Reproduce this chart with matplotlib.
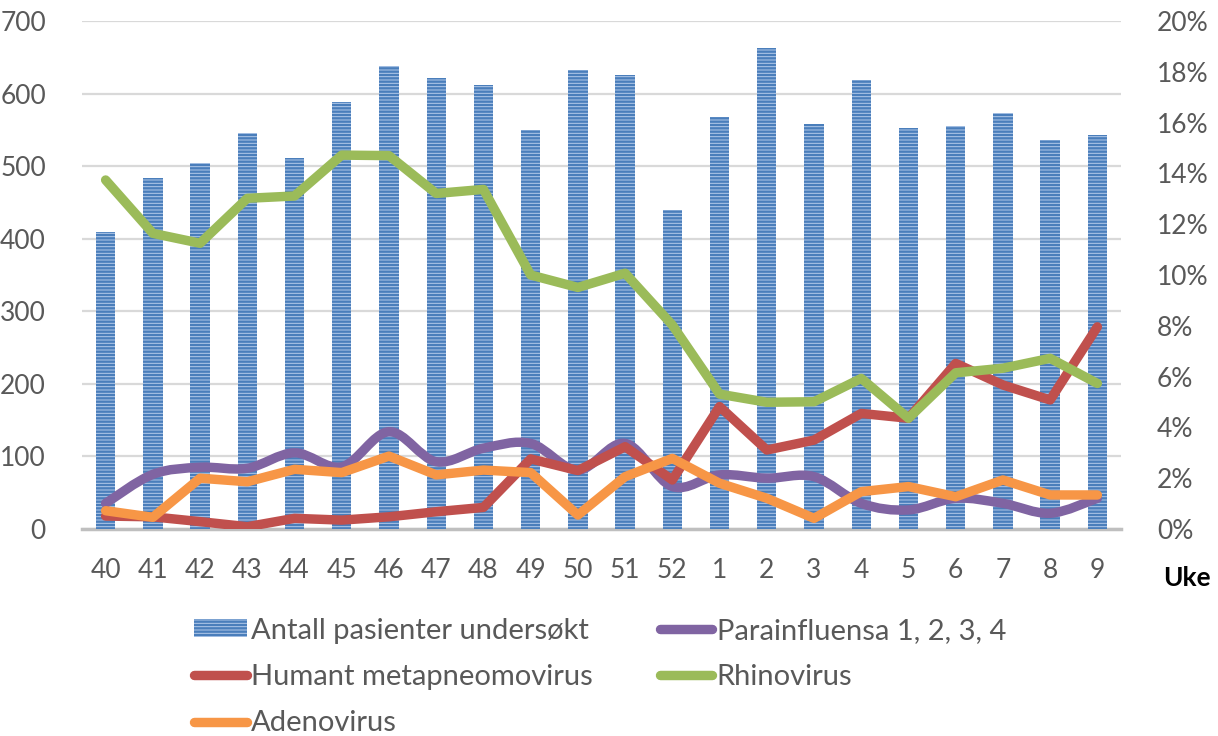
import matplotlib
matplotlib.use("Agg")
import matplotlib.pyplot as plt
from matplotlib.path import Path
from matplotlib.patches import PathPatch, Patch
from matplotlib.lines import Line2D
from matplotlib.ticker import FuncFormatter
import numpy as np

weeks = ["40", "41", "42", "43", "44", "45", "46", "47", "48", "49", "50", "51",
         "52", "1", "2", "3", "4", "5", "6", "7", "8", "9"]
antall = [409, 484, 505, 545, 511, 589, 638, 621, 612, 550, 633, 626,
          439, 568, 663, 558, 619, 553, 555, 573, 536, 543]
parainfluensa = [1.01, 2.15, 2.43, 2.39, 3.00, 2.45, 3.83, 2.65, 3.18, 3.37, 2.32, 3.37,
                 1.67, 2.13, 2.00, 2.06, 1.01, 0.75, 1.21, 1.01, 0.62, 1.21]
metapneumo = [0.51, 0.48, 0.29, 0.09, 0.42, 0.35, 0.48, 0.68, 0.85, 2.76, 2.30, 3.24,
              1.93, 4.82, 3.11, 3.50, 4.55, 4.36, 6.52, 5.67, 5.08, 7.96]
rhinovirus = [13.74, 11.64, 11.25, 13.02, 13.11, 14.72, 14.70, 13.21, 13.37, 10.00, 9.51, 10.07,
              8.03, 5.31, 4.99, 5.01, 5.93, 4.36, 6.15, 6.33, 6.72, 5.73]
adenovirus = [0.72, 0.46, 2.00, 1.86, 2.35, 2.22, 2.87, 2.13, 2.32, 2.22, 0.55, 2.06,
              2.78, 1.80, 1.21, 0.42, 1.47, 1.67, 1.27, 1.93, 1.34, 1.34]

names = ["Antall pasienter undersøkt", "Parainfluensa 1, 2, 3, 4",
         "Humant metapneomovirus", "Rhinovirus", "Adenovirus"]

C_BAR_FACE = "#b3caea"
C_BAR_HATCH = "#4a7ebb"
C_PARA = "#8064a2"
C_META = "#c0504d"
C_RHINO = "#9bbb59"
C_ADENO = "#f79646"
TXT = "#595959"

plt.rcParams["font.family"] = ["Lato", "DejaVu Sans"]
plt.rcParams["hatch.linewidth"] = 1.7

W, H = 1218, 736
fig = plt.figure(figsize=(W / 100, H / 100), dpi=100)
left, right, top, bottom = 82, 1121, 21, 529
ax = fig.add_axes([left / W, 1 - bottom / H, (right - left) / W, (bottom - top) / H])

x = np.arange(len(weeks))
ax.bar(x, antall, width=0.41, color=C_BAR_FACE, edgecolor=C_BAR_HATCH,
       linewidth=0, hatch="-----", zorder=2)
ax.set_xlim(-0.5, len(weeks) - 0.5)
ax.set_ylim(0, 700)
ax.set_yticks(np.arange(0, 701, 100))
ax.yaxis.grid(True, color="#d9d9d9", linewidth=1.6, zorder=0)
ax.set_axisbelow(True)
for s in ["top", "right", "left"]:
    ax.spines[s].set_visible(False)
ax.spines["bottom"].set_color("#bfbfbf")
ax.spines["bottom"].set_linewidth(2.5)
ax.spines["bottom"].set_zorder(1)
ax.set_xticks(x)
ax.set_xticklabels(weeks)
ax.tick_params(axis="both", length=0, labelsize=19, labelcolor=TXT)
ax.tick_params(axis="x", pad=21)
ax.tick_params(axis="y", pad=26)

ax2 = ax.twinx()
ax2.set_ylim(0, 20)
ax2.set_yticks(np.arange(0, 21, 2))
ax2.yaxis.set_major_formatter(FuncFormatter(lambda v, p: f"{int(round(v))}%"))
ax2.tick_params(axis="y", length=0, labelsize=19, labelcolor=TXT, pad=26)
for s in ax2.spines.values():
    s.set_visible(False)

LW = 6.8


def smooth_path(xs, ys):
    pts = np.column_stack([xs, ys]).astype(float)
    n = len(pts)
    verts = [pts[0]]
    codes = [Path.MOVETO]
    for i in range(n - 1):
        p0 = pts[i - 1] if i > 0 else pts[i]
        p1 = pts[i]
        p2 = pts[i + 1]
        p3 = pts[i + 2] if i + 2 < n else pts[i + 1]
        c1 = p1 + (p2 - p0) / 6.0
        c2 = p2 - (p3 - p1) / 6.0
        verts += [c1, c2, p2]
        codes += [Path.CURVE4] * 3
    return Path(verts, codes)


para_patch = PathPatch(smooth_path(x, parainfluensa), facecolor="none",
                       edgecolor=C_PARA, linewidth=LW, capstyle="round",
                       joinstyle="round", zorder=3)
ax2.add_patch(para_patch)
line_kw = dict(linewidth=LW, solid_capstyle="round", solid_joinstyle="round")
ax2.plot(x, metapneumo, color=C_META, zorder=4, **line_kw)
ax2.plot(x, rhinovirus, color=C_RHINO, zorder=5, **line_kw)
ax2.plot(x, adenovirus, color=C_ADENO, zorder=6, **line_kw)

fig.text(1187 / W, 1 - 578 / H, "Uke", ha="center", va="center",
         fontsize=19, fontweight="bold", color="black")

h_bar = Patch(facecolor=C_BAR_FACE, edgecolor=C_BAR_HATCH, linewidth=0, hatch="-----")
lk = dict(linewidth=LW, solid_capstyle="round")
h_para = Line2D([], [], color=C_PARA, **lk)
h_meta = Line2D([], [], color=C_META, **lk)
h_rhino = Line2D([], [], color=C_RHINO, **lk)
h_adeno = Line2D([], [], color=C_ADENO, **lk)
handles = [h_bar, h_meta, h_adeno, h_para, h_rhino]
labels = [names[0], names[2], names[4], names[1], names[3]]
leg = fig.legend(handles, labels, loc="upper center",
                 bbox_to_anchor=(600 / W, 1 - 603 / H), ncol=2, frameon=False,
                 fontsize=21, labelcolor=TXT, handlelength=1.8, handletextpad=0.15,
                 columnspacing=2.3, labelspacing=0.7, handleheight=0.55,
                 borderpad=0)

fig.savefig("out.png", dpi=100)
